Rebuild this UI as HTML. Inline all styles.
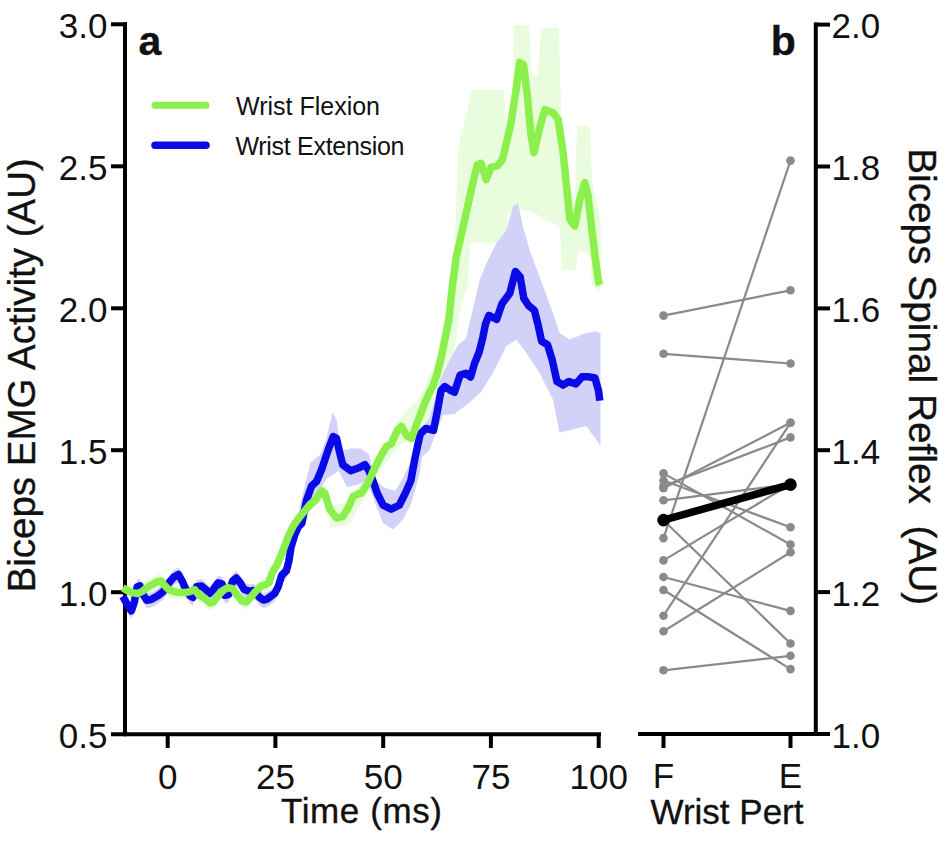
<!DOCTYPE html>
<html><head><meta charset="utf-8"><style>
html,body{margin:0;padding:0;background:#fff;width:939px;height:842px;overflow:hidden;}
svg{display:block;}
text{font-family:"Liberation Sans",sans-serif;fill:#111;} .t{stroke:#111;stroke-width:0.35px;}
</style></head><body>
<svg width="939" height="842" viewBox="0 0 939 842">
<rect width="939" height="842" fill="#fff"/>
<polygon points="122.8,580.8 127.6,583.7 132.4,585.6 137.2,586.6 142.0,584.6 146.8,580.8 151.6,577.9 156.4,575.1 161.1,574.1 164.0,577.9 168.8,582.7 173.6,584.6 179.4,585.6 185.1,585.6 189.9,584.6 194.7,582.7 199.5,588.5 204.8,591.1 209.6,596.0 213.4,595.0 218.2,588.3 223.0,583.5 227.8,580.6 232.6,581.6 237.4,588.3 242.2,594.0 246.0,595.0 250.8,590.2 255.6,584.4 260.4,579.6 265.2,577.7 269.0,575.5 272.1,566.1 276.9,557.8 281.6,547.1 285.2,537.6 288.8,528.1 293.5,518.6 299.4,510.3 305.4,503.2 310.1,497.3 316.1,492.5 321.5,484.0 324.9,486.1 329.8,502.7 330.0,506.0 336.5,504.7 343.1,503.4 345.0,503.0 348.1,499.1 350.0,496.7 353.1,492.7 358.0,486.5 360.0,484.0 361.4,481.8 368.0,471.2 373.0,463.2 379.7,452.5 380.0,452.0 386.3,441.3 391.2,433.0 394.6,427.2 397.5,422.2 400.0,418.0 401.3,416.7 407.4,410.6 411.4,406.6 417.5,400.5 420.0,398.0 423.5,389.6 429.6,375.0 433.0,366.8 437.3,356.5 440.0,350.0 441.1,343.4 444.9,320.6 448.7,297.8 450.0,290.0 452.0,270.0 452.3,267.0 455.0,240.0 456.2,204.0 458.0,150.0 459.5,143.6 460.0,141.4 462.5,130.7 467.5,109.3 468.0,107.1 470.0,98.6 472.0,90.0 472.4,90.0 477.4,90.0 481.2,90.0 486.2,90.0 491.1,90.0 497.4,90.0 502.4,90.0 504.0,90.0 506.0,116.7 506.1,118.0 507.0,130.0 508.0,130.0 511.1,119.3 512.0,113.5 514.0,25.0 516.1,25.0 517.0,25.0 519.8,25.0 523.6,25.0 527.3,25.0 529.0,25.0 531.0,58.3 532.0,75.0 533.0,75.0 534.0,75.0 538.0,75.0 540.0,43.7 541.0,28.0 544.9,28.0 545.0,28.0 553.2,28.0 558.2,28.0 559.0,28.0 560.0,75.3 562.0,141.8 563.2,149.8 566.5,180.4 569.8,188.0 574.8,199.5 575.0,200.0 576.0,163.0 577.0,126.0 578.0,126.0 579.8,126.0 584.8,126.0 588.1,126.0 590.0,126.0 591.4,163.8 592.0,180.0 595.4,196.0 598.7,211.5 599.6,215.8 600.5,220.0 600.5,292.0 599.6,291.3 598.7,290.5 595.4,287.8 592.0,285.0 591.4,276.0 590.0,255.0 588.1,254.2 584.8,252.8 579.8,250.7 578.0,250.0 577.0,260.0 576.0,270.0 575.0,270.0 574.8,270.0 569.8,270.0 566.5,270.0 563.2,270.0 562.0,270.0 560.0,226.0 559.0,225.6 558.2,225.3 553.2,223.3 545.0,220.0 544.9,219.9 541.0,217.3 540.0,216.7 538.0,215.3 534.0,212.7 533.0,212.0 532.0,211.9 531.0,211.8 529.0,211.5 527.3,211.3 523.6,210.8 519.8,210.3 517.0,210.0 516.1,210.3 514.0,211.0 512.0,211.7 511.1,212.0 508.0,213.0 507.0,228.0 506.1,241.5 506.0,243.0 504.0,243.0 502.4,243.0 497.4,243.0 491.1,243.0 486.2,243.0 481.2,243.0 477.4,243.0 472.4,243.0 472.0,243.0 470.0,243.0 468.0,285.0 467.5,286.6 462.5,302.2 460.0,310.0 459.5,313.8 458.0,325.0 456.2,338.5 455.0,347.5 452.3,367.7 452.0,370.0 450.0,376.7 448.7,381.0 444.9,393.7 441.1,406.3 440.0,410.0 437.3,413.4 433.0,418.8 429.6,423.0 423.5,430.6 420.0,435.0 417.5,436.2 411.4,441.5 407.4,441.3 401.3,444.4 400.0,445.0 397.5,448.1 394.6,451.8 391.2,456.0 386.3,462.1 380.0,470.0 379.7,470.5 373.0,482.6 368.0,491.6 361.4,503.5 360.0,506.0 358.0,509.6 353.1,518.4 350.0,524.0 348.1,524.4 345.0,525.0 343.1,525.4 336.5,526.7 330.0,528.0 329.8,516.7 324.9,500.1 321.5,498.0 316.1,506.5 310.1,511.3 305.4,517.2 299.4,524.3 293.5,532.6 288.8,542.1 285.2,551.6 281.6,561.1 276.9,571.8 272.1,580.1 269.0,589.5 265.2,591.7 260.4,593.6 255.6,598.4 250.8,604.2 246.0,609.0 242.2,608.0 237.4,602.3 232.6,595.6 227.8,594.6 223.0,597.5 218.2,602.3 213.4,609.0 209.6,610.0 204.8,605.1 199.5,602.5 194.7,596.7 189.9,598.6 185.1,599.6 179.4,599.6 173.6,598.6 168.8,596.7 164.0,591.9 161.1,588.1 156.4,589.1 151.6,591.9 146.8,594.8 142.0,598.6 137.2,600.6 132.4,599.6 127.6,597.7 122.8,594.8" fill="#e3fbd6" fill-opacity="0.8"/>
<polygon points="122.8,589.4 127.6,598.1 131.4,603.8 134.3,595.2 137.2,579.8 140.0,578.9 143.0,587.5 146.8,593.3 151.6,592.3 158.3,588.5 163.1,584.6 168.8,576.0 173.6,570.3 178.4,567.4 182.2,574.1 185.1,580.8 189.9,588.5 192.8,590.4 196.6,579.8 201.4,578.9 204.8,581.6 209.6,586.4 213.4,582.5 218.2,575.8 222.1,576.8 224.9,588.3 228.8,587.3 232.6,573.9 236.4,571.0 240.3,575.8 244.1,582.5 249.9,584.4 253.7,583.5 259.4,590.2 263.3,593.1 267.1,592.1 270.9,589.2 274.8,586.4 278.1,580.0 281.6,568.5 286.4,563.8 288.8,554.3 291.1,540.0 294.7,528.1 296.3,524.4 298.3,519.8 300.0,505.0 301.8,497.7 306.6,478.2 310.4,462.7 311.6,461.7 316.5,457.8 320.0,455.0 321.5,451.2 326.0,440.0 326.6,437.5 328.2,430.7 332.6,412.2 333.2,413.4 336.5,419.9 336.7,420.3 338.7,435.5 339.8,443.8 340.7,450.6 342.7,450.2 346.8,449.4 350.8,448.6 356.9,448.6 358.9,448.6 360.9,448.6 365.0,451.6 367.0,453.1 369.0,454.6 373.0,470.8 375.0,478.9 377.1,481.0 383.1,487.0 391.2,489.7 393.2,490.3 395.3,491.0 399.3,483.9 403.3,476.9 405.4,472.7 410.9,461.7 411.4,460.7 415.0,447.2 419.5,430.4 420.2,429.5 422.1,427.2 425.9,422.5 429.6,418.0 433.5,403.8 437.3,389.9 440.0,380.0 441.1,377.7 443.0,373.6 444.9,369.6 446.5,366.2 450.6,358.7 454.4,351.7 458.2,344.7 460.1,343.3 465.8,339.0 467.7,330.9 470.6,318.6 474.4,302.4 479.1,282.4 479.7,279.8 481.0,276.6 482.9,271.9 485.5,265.4 486.4,263.2 488.9,258.2 493.0,250.0 496.4,243.2 496.7,242.8 502.0,235.7 506.3,229.9 509.8,217.7 513.0,206.6 515.4,205.0 516.3,204.4 518.0,203.3 520.2,213.6 523.0,226.6 523.8,229.4 526.3,238.2 528.5,246.0 529.6,249.9 534.4,262.7 538.0,272.2 539.6,276.5 541.6,282.0 547.5,298.2 552.3,311.4 552.9,313.0 557.0,325.4 559.5,333.0 563.0,335.3 568.9,339.2 569.5,339.6 572.8,338.3 576.0,337.0 582.0,334.6 586.1,333.0 589.1,332.5 595.0,331.5 596.1,331.3 598.6,332.3 599.8,332.7 600.5,333.0 600.5,446.0 599.8,444.9 598.6,443.2 596.1,439.4 595.0,437.9 589.1,430.1 586.1,426.1 582.0,427.1 576.0,428.6 572.8,429.4 569.5,430.2 568.9,430.4 563.0,431.8 559.5,432.7 557.0,420.1 552.9,399.5 552.3,398.3 547.5,388.7 541.6,376.9 539.6,372.9 538.0,370.5 534.4,365.1 529.6,357.9 528.5,356.2 526.3,352.9 523.8,349.6 523.0,348.5 520.2,344.8 518.0,341.9 516.3,339.6 515.4,340.2 513.0,341.8 509.8,344.0 506.3,346.3 502.0,354.9 496.7,365.5 496.4,366.1 493.0,372.9 488.9,379.5 486.4,383.5 485.5,385.0 482.9,389.1 481.0,392.2 479.7,393.4 479.1,393.9 474.4,398.1 470.6,401.4 467.7,404.0 465.8,405.4 460.1,409.7 458.2,411.1 454.4,414.0 450.6,414.3 446.5,414.7 444.9,414.8 443.0,415.0 441.1,420.0 440.0,422.8 437.3,429.9 433.5,439.8 429.6,450.0 425.9,453.4 422.1,456.9 420.2,470.0 419.5,474.8 415.0,490.5 411.4,503.1 410.9,504.1 405.4,515.1 403.3,519.3 399.3,523.3 395.3,527.3 393.2,529.4 391.2,528.2 383.1,523.3 377.1,508.3 375.0,503.1 373.0,497.6 369.0,486.4 367.0,480.9 365.0,481.7 360.9,483.3 358.9,484.1 356.9,484.9 350.8,486.2 346.8,487.0 342.7,478.8 340.7,474.8 339.8,473.0 338.7,470.8 336.7,472.1 336.5,472.3 333.2,474.5 332.6,474.9 328.2,477.8 326.6,478.9 326.0,479.8 321.5,486.5 320.0,488.8 316.5,494.0 311.6,501.3 310.4,503.1 306.6,510.7 301.8,526.3 300.0,528.1 298.3,529.8 296.3,534.4 294.7,543.1 291.1,555.0 288.8,569.3 286.4,578.8 281.6,583.5 278.1,595.0 274.8,601.4 270.9,604.2 267.1,607.1 263.3,608.1 259.4,605.2 253.7,598.5 249.9,599.4 244.1,597.5 240.3,590.8 236.4,586.0 232.6,588.9 228.8,602.3 224.9,603.3 222.1,591.8 218.2,590.8 213.4,597.5 209.6,601.4 204.8,596.6 201.4,593.9 196.6,594.8 192.8,605.4 189.9,603.5 185.1,595.8 182.2,589.1 178.4,582.4 173.6,585.3 168.8,591.0 163.1,599.6 158.3,603.5 151.6,607.3 146.8,608.3 143.0,602.5 140.0,593.9 137.2,594.8 134.3,610.2 131.4,618.8 127.6,613.1 122.8,604.4" fill="#d2d2f8"/>
<g stroke="#000" stroke-width="4" fill="none">
<line x1="125" y1="22.3" x2="125" y2="736.2"/>
<line x1="111" y1="734.2" x2="601" y2="734.2"/>
<line x1="111" y1="592.2" x2="127" y2="592.2"/>
<line x1="111" y1="450.2" x2="127" y2="450.2"/>
<line x1="111" y1="308.3" x2="127" y2="308.3"/>
<line x1="111" y1="166.3" x2="127" y2="166.3"/>
<line x1="111" y1="24.3" x2="127" y2="24.3"/>
<line x1="167.7" y1="733" x2="167.7" y2="748"/>
<line x1="275.4" y1="733" x2="275.4" y2="748"/>
<line x1="383.2" y1="733" x2="383.2" y2="748"/>
<line x1="490.9" y1="733" x2="490.9" y2="748"/>
<line x1="598.7" y1="733" x2="598.7" y2="748"/>
<line x1="638" y1="734" x2="830" y2="734"/>
<line x1="815.8" y1="22.6" x2="815.8" y2="736"/>
<line x1="814" y1="592.1" x2="830" y2="592.1"/>
<line x1="814" y1="450.2" x2="830" y2="450.2"/>
<line x1="814" y1="308.4" x2="830" y2="308.4"/>
<line x1="814" y1="166.5" x2="830" y2="166.5"/>
<line x1="814" y1="24.6" x2="830" y2="24.6"/>
<line x1="663.5" y1="733" x2="663.5" y2="748"/>
<line x1="790.5" y1="733" x2="790.5" y2="748"/>
</g>
<polyline points="122.8,596.4 127.6,605.1 131.4,610.8 134.3,602.2 137.2,586.8 140.0,585.9 143.0,594.5 146.8,600.3 151.6,599.3 158.3,595.5 163.1,591.6 168.8,583.0 173.6,577.3 178.4,574.4 182.2,581.1 185.1,587.8 189.9,595.5 192.8,597.4 196.6,586.8 201.4,585.9 204.8,588.6 209.6,593.4 213.4,589.5 218.2,582.8 222.1,583.8 224.9,595.3 228.8,594.3 232.6,580.9 236.4,578.0 240.3,582.8 244.1,589.5 249.9,591.4 253.7,590.5 259.4,597.2 263.3,600.1 267.1,599.1 270.9,596.2 274.8,593.4 278.1,587.0 281.6,575.5 286.4,570.8 288.8,561.3 291.1,547.0 294.7,535.1 298.3,526.8 301.8,523.3 306.6,500.0 311.6,486.0 316.5,481.5 321.5,469.8 328.2,449.9 333.2,436.6 336.5,438.3 339.8,453.2 342.7,464.7 350.8,470.8 358.9,467.8 365.0,464.7 369.0,470.8 373.0,480.9 377.1,493.0 383.1,505.2 391.2,509.2 399.3,505.2 405.4,493.0 410.9,480.5 415.0,458.0 420.2,434.0 425.9,428.4 433.5,430.3 437.3,411.2 441.1,390.3 444.9,386.5 450.6,390.3 454.4,392.2 460.1,375.1 465.8,373.2 470.6,377.0 474.4,363.7 479.1,352.3 482.9,337.1 485.5,324.0 488.9,315.4 496.7,319.3 502.0,303.7 509.8,293.2 515.4,271.5 520.2,277.0 523.8,298.4 528.5,305.5 534.4,310.3 538.0,324.5 541.6,341.2 547.5,344.7 552.3,360.2 557.0,381.6 563.0,385.1 568.9,381.6 576.0,383.9 582.0,376.8 589.1,376.8 595.0,378.0 598.6,391.1 599.8,400.6" fill="none" stroke="#0a0ae4" stroke-width="7.5" stroke-linejoin="round"/>
<polyline points="122.8,587.8 127.6,590.7 132.4,592.6 137.2,593.6 142.0,591.6 146.8,587.8 151.6,584.9 156.4,582.1 161.1,581.1 164.0,584.9 168.8,589.7 173.6,591.6 179.4,592.6 185.1,592.6 189.9,591.6 194.7,589.7 199.5,595.5 204.8,598.1 209.6,603.0 213.4,602.0 218.2,595.3 223.0,590.5 227.8,587.6 232.6,588.6 237.4,595.3 242.2,601.0 246.0,602.0 250.8,597.2 255.6,591.4 260.4,586.6 265.2,584.7 269.0,582.5 272.1,573.1 276.9,564.8 281.6,554.1 285.2,544.6 288.8,535.1 293.5,525.6 299.4,517.3 305.4,510.2 310.1,504.3 316.1,499.5 321.5,491.0 324.9,493.1 329.8,509.7 336.5,518.0 343.1,516.3 348.1,508.0 353.1,496.4 358.0,494.0 361.4,493.1 368.0,483.1 373.0,471.5 379.7,458.2 386.3,446.6 391.2,444.0 394.6,436.6 397.5,430.0 401.3,426.4 407.4,436.5 411.4,438.5 417.5,422.3 423.5,406.2 429.6,392.0 433.0,386.0 437.3,373.2 441.1,358.0 444.9,339.0 448.7,320.0 452.3,287.0 456.2,257.0 459.5,243.0 462.5,229.5 467.5,207.1 472.4,184.6 477.4,164.7 481.2,163.4 486.2,179.7 491.1,167.2 497.4,165.9 502.4,159.7 506.1,144.7 511.1,122.3 516.1,89.9 519.8,62.4 523.6,64.9 527.3,94.9 531.0,134.8 534.0,152.5 540.0,126.3 544.9,109.7 553.2,113.0 558.2,119.6 563.2,152.8 566.5,186.1 569.8,219.3 574.8,225.9 579.8,199.3 584.8,182.7 588.1,196.0 591.4,225.9 595.4,259.1 598.7,282.4 599.6,285.0" fill="none" stroke="#8cf04c" stroke-width="7.5" stroke-linejoin="round"/>
<g stroke="#8a8a8a" stroke-width="2.2">
<line x1="663.5" y1="315.6" x2="790.5" y2="290.3"/>
<line x1="663.5" y1="353.8" x2="790.5" y2="363.5"/>
<line x1="663.5" y1="473.4" x2="790.5" y2="544.5"/>
<line x1="663.5" y1="480.5" x2="790.5" y2="527.2"/>
<line x1="663.5" y1="486.0" x2="790.5" y2="437.4"/>
<line x1="663.5" y1="488.3" x2="790.5" y2="422.8"/>
<line x1="663.5" y1="500.3" x2="790.5" y2="484.2"/>
<line x1="663.5" y1="520.3" x2="790.5" y2="643.5"/>
<line x1="663.5" y1="538.1" x2="790.5" y2="160.6"/>
<line x1="663.5" y1="560.4" x2="790.5" y2="484.2"/>
<line x1="663.5" y1="577.0" x2="790.5" y2="610.9"/>
<line x1="663.5" y1="590.0" x2="790.5" y2="669.1"/>
<line x1="663.5" y1="615.7" x2="790.5" y2="422.8"/>
<line x1="663.5" y1="631.3" x2="790.5" y2="552.3"/>
<line x1="663.5" y1="670.3" x2="790.5" y2="655.8"/>
</g><g fill="#8a8a8a">
<circle cx="663.5" cy="315.6" r="4.3"/><circle cx="790.5" cy="290.3" r="4.3"/>
<circle cx="663.5" cy="353.8" r="4.3"/><circle cx="790.5" cy="363.5" r="4.3"/>
<circle cx="663.5" cy="473.4" r="4.3"/><circle cx="790.5" cy="544.5" r="4.3"/>
<circle cx="663.5" cy="480.5" r="4.3"/><circle cx="790.5" cy="527.2" r="4.3"/>
<circle cx="663.5" cy="486.0" r="4.3"/><circle cx="790.5" cy="437.4" r="4.3"/>
<circle cx="663.5" cy="488.3" r="4.3"/><circle cx="790.5" cy="422.8" r="4.3"/>
<circle cx="663.5" cy="500.3" r="4.3"/><circle cx="790.5" cy="484.2" r="4.3"/>
<circle cx="663.5" cy="520.3" r="4.3"/><circle cx="790.5" cy="643.5" r="4.3"/>
<circle cx="663.5" cy="538.1" r="4.3"/><circle cx="790.5" cy="160.6" r="4.3"/>
<circle cx="663.5" cy="560.4" r="4.3"/><circle cx="790.5" cy="484.2" r="4.3"/>
<circle cx="663.5" cy="577.0" r="4.3"/><circle cx="790.5" cy="610.9" r="4.3"/>
<circle cx="663.5" cy="590.0" r="4.3"/><circle cx="790.5" cy="669.1" r="4.3"/>
<circle cx="663.5" cy="615.7" r="4.3"/><circle cx="790.5" cy="422.8" r="4.3"/>
<circle cx="663.5" cy="631.3" r="4.3"/><circle cx="790.5" cy="552.3" r="4.3"/>
<circle cx="663.5" cy="670.3" r="4.3"/><circle cx="790.5" cy="655.8" r="4.3"/>
</g>
<line x1="663.5" y1="520.1" x2="790.5" y2="484.6" stroke="#000" stroke-width="7.6"/>
<circle cx="663.5" cy="520.1" r="6.3"/><circle cx="790.5" cy="484.6" r="6.3"/>
<line x1="155" y1="105.2" x2="206" y2="105.2" stroke="#8cf04c" stroke-width="7" stroke-linecap="round"/>
<line x1="155" y1="145.3" x2="206" y2="145.3" stroke="#0a0ae4" stroke-width="7.5" stroke-linecap="round"/>
<text x="107.5" y="747.5" text-anchor="end" font-size="35">0.5</text>
<text x="107.5" y="605.5" text-anchor="end" font-size="35">1.0</text>
<text x="107.5" y="463.5" text-anchor="end" font-size="35">1.5</text>
<text x="107.5" y="321.6" text-anchor="end" font-size="35">2.0</text>
<text x="107.5" y="179.6" text-anchor="end" font-size="35">2.5</text>
<text x="107.5" y="37.6" text-anchor="end" font-size="35">3.0</text>
<text x="167.7" y="789.2" text-anchor="middle" font-size="35">0</text>
<text x="275.4" y="789.2" text-anchor="middle" font-size="35">25</text>
<text x="383.2" y="789.2" text-anchor="middle" font-size="35">50</text>
<text x="490.9" y="789.2" text-anchor="middle" font-size="35">75</text>
<text x="598.7" y="789.2" text-anchor="middle" font-size="35">100</text>
<text x="831.5" y="747.5" font-size="35">1.0</text>
<text x="831.5" y="605.6" font-size="35">1.2</text>
<text x="831.5" y="463.7" font-size="35">1.4</text>
<text x="831.5" y="321.9" font-size="35">1.6</text>
<text x="831.5" y="180.0" font-size="35">1.8</text>
<text x="831.5" y="38.1" font-size="35">2.0</text>
<text x="663.5" y="788" text-anchor="middle" font-size="35">F</text>
<text x="790.5" y="788" text-anchor="middle" font-size="35">E</text>
<text x="361.8" y="823.4" text-anchor="middle" font-size="35" letter-spacing="0.6" class="t">Time (ms)</text>
<text x="727" y="823.5" text-anchor="middle" font-size="35" class="t">Wrist Pert</text>
<text transform="translate(35,375.3) rotate(-90)" class="t" text-anchor="middle" font-size="38.5">Biceps EMG Activity (AU)</text>
<text transform="translate(909.3,376.7) rotate(90)" class="t" text-anchor="middle" font-size="38.8" xml:space="preserve">Biceps Spinal Reflex  (AU)</text>
<text x="138.5" y="54.8" font-size="41" font-weight="bold" class="t">a</text>
<text x="770.8" y="55" font-size="41" font-weight="bold" class="t">b</text>
<text x="236" y="115.3" font-size="25">Wrist Flexion</text>
<text x="235.5" y="154.6" font-size="25" letter-spacing="-0.3">Wrist Extension</text>
</svg></body></html>
